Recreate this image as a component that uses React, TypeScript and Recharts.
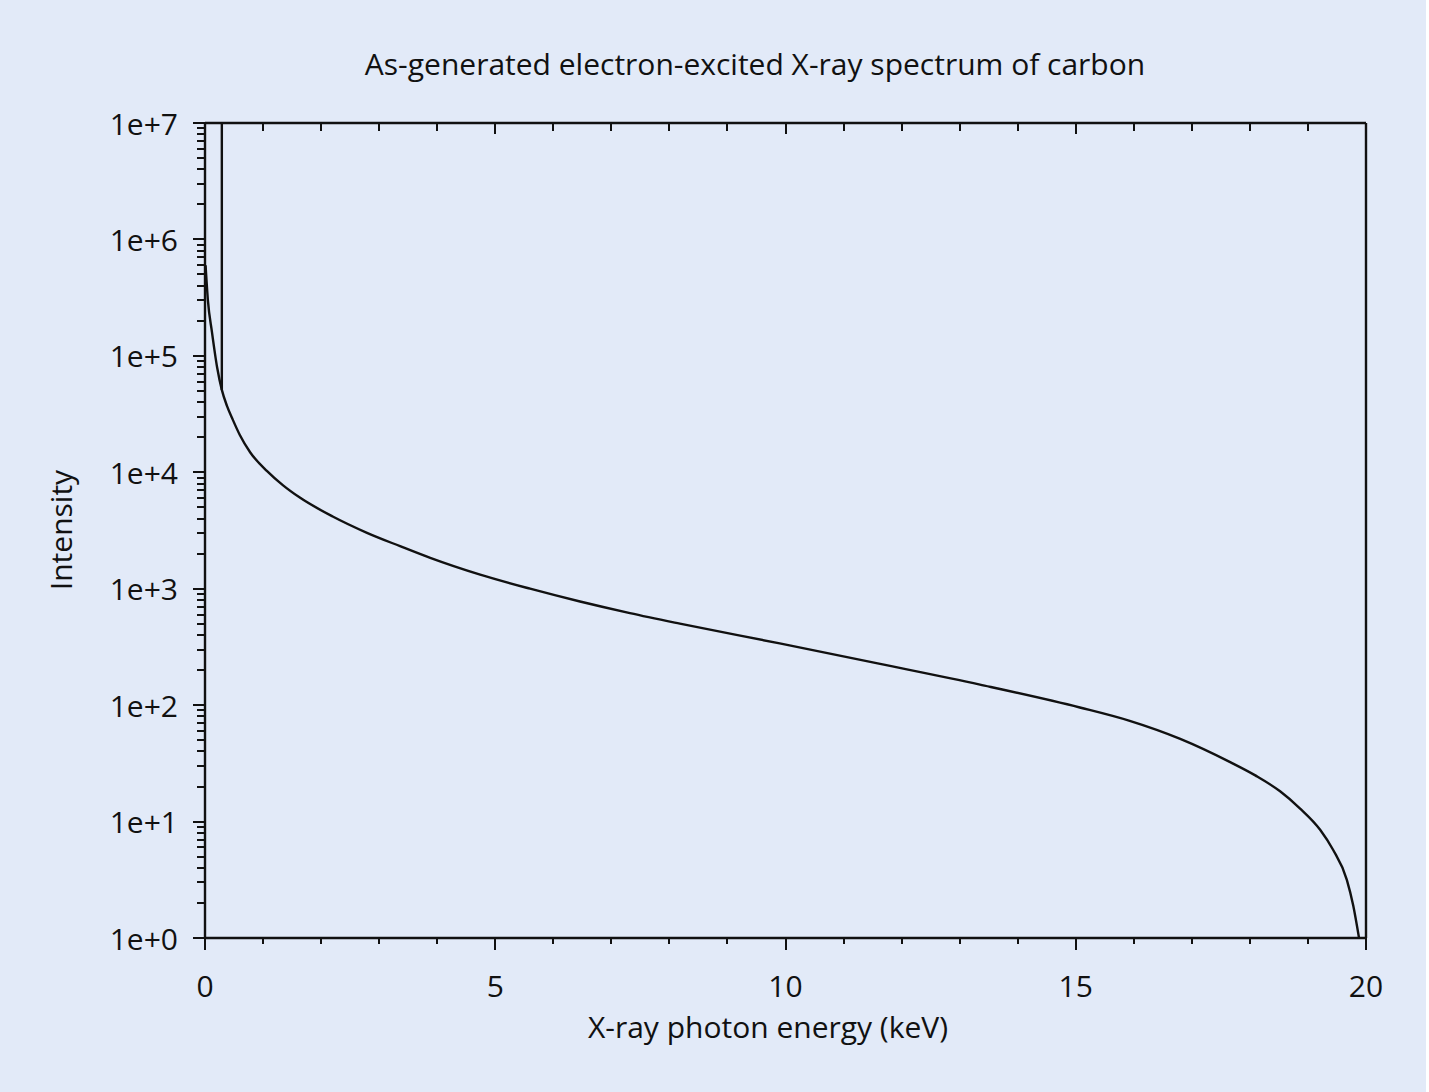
import { LineChart, Line, XAxis, YAxis } from 'recharts';

// X-ray photon energy (keV) and intensity
const energy = [
	0.01, 0.05, 0.12, 0.21, 0.29, 0.38, 0.48, 0.6, 0.78, 1.07, 1.34, 1.64, 2.2,
	2.79, 3.36, 3.88, 4.74, 5.6, 6.46, 7.32, 8.18, 9.9, 11.63, 13.35, 15.07,
	15.93, 16.8, 17.66, 18.1, 18.52, 18.86, 19.21, 19.43, 19.67, 19.78, 19.88,
];
const intensity = [
	600000, 300000, 160000, 79000, 51000, 37000, 28200, 20900, 14800, 10230,
	7760, 6030, 4170, 3020, 2320, 1840, 1320, 1000, 776, 617, 501, 339, 226, 150,
	95.5, 73.3, 51.3, 32.4, 24.8, 18.2, 13.0, 8.5, 5.75, 3.16, 1.9, 1.0,
];

// carbon K line, drawn off the top of the plot
const lineEnergy = [0.29, 0.29];
const lineIntensity = [51000, 30000000];

const xMajor = [0, 5, 10, 15, 20];
const xTicks = Array.from({ length: 21 }, (_, i) => i);
const yMajor = [1, 10, 100, 1000, 10000, 100000, 1000000, 10000000];
const yLabels = ['1e+0', '1e+1', '1e+2', '1e+3', '1e+4', '1e+5', '1e+6', '1e+7'];
const yTicks = [
	...yMajor.slice(0, 7).flatMap((m) => [1, 2, 3, 4, 5, 6, 7, 8, 9].map((d) => d * m)),
	10000000,
];

const data = energy.map((e, i) => ({ energy: e, intensity: intensity[i] }));
const lineData = lineEnergy.map((e, i) => ({ energy: e, intensity: lineIntensity[i] }));

const font = '"Open Sans", sans-serif';
const ink = '#111';
const fs = 30;

const yLabelOf = (v) => {
	const i = yMajor.indexOf(v);
	return i >= 0 ? yLabels[i] : null;
};

const LeftTick = ({ x, y, payload }) => {
	const label = yLabelOf(payload.value);
	return (
		<g>
			<line x1={x - (label ? 12 : 8)} x2={x} y1={y} y2={y} stroke={ink} strokeWidth={2} shapeRendering="crispEdges" />
			{label && (
				<text x={x - 27} y={y} textAnchor="end" dominantBaseline="central" fontSize={fs} fontFamily={font} fill={ink}>
					{label}
				</text>
			)}
		</g>
	);
};

const RightTick = ({ x, y, payload }) => {
	const major = yLabelOf(payload.value) !== null;
	return <line x1={x - (major ? 13 : 8)} x2={x} y1={y} y2={y} stroke={ink} strokeWidth={2} shapeRendering="crispEdges" />;
};

const BottomTick = ({ x, y, payload }) => {
	const major = xMajor.includes(payload.value);
	return (
		<g>
			<line x1={x} x2={x} y1={y} y2={y + (major ? 12 : 6)} stroke={ink} strokeWidth={2} shapeRendering="crispEdges" />
			{major && (
				<text x={x} y={y + 47} textAnchor="middle" dominantBaseline="central" fontSize={fs} fontFamily={font} fill={ink}>
					{payload.value}
				</text>
			)}
		</g>
	);
};

const TopTick = ({ x, y, payload }) => {
	const major = xMajor.includes(payload.value);
	return <line x1={x} x2={x} y1={y} y2={y + (major ? 11 : 8)} stroke={ink} strokeWidth={2} shapeRendering="crispEdges" />;
};

const axisLine = { stroke: ink, strokeWidth: 2.4 };

export default function App() {
	return (
		<div
			style={{
				position: 'absolute',
				left: 0,
				top: 0,
				width: 1426,
				height: 1092,
				background: '#e2eaf8',
				fontFamily: font,
				color: ink,
			}}
		>
			<div style={{ position: 'absolute', left: 0, width: 1510, top: 44, textAlign: 'center', fontSize: fs, lineHeight: '40px' }}>
				As-generated electron-excited X-ray spectrum of carbon
			</div>
			<div
				style={{
					position: 'absolute',
					left: 60,
					top: 530,
					transform: 'translate(-50%, -50%) rotate(-90deg)',
					fontSize: fs,
					whiteSpace: 'nowrap',
				}}
			>
				Intensity
			</div>
			<div style={{ position: 'absolute', left: 0, width: 1536, top: 1007, textAlign: 'center', fontSize: fs, lineHeight: '40px' }}>
				X-ray photon energy (keV)
			</div>
			<div style={{ position: 'absolute', left: 0, top: 0 }}>
				<LineChart width={1426} height={1092} data={data} margin={{ top: 113, right: 50, bottom: 0, left: 0 }}>
					<XAxis
						dataKey="energy"
						type="number"
						domain={[0, 20]}
						ticks={xTicks}
						interval={0}
						height={154}
						tickSize={0}
						tickMargin={0}
						tickLine={false}
						axisLine={axisLine}
						tick={BottomTick}
						allowDataOverflow
					/>
					<XAxis
						xAxisId="top"
						orientation="top"
						dataKey="energy"
						type="number"
						domain={[0, 20]}
						ticks={xTicks}
						interval={0}
						height={10}
						tickSize={0}
						tickMargin={0}
						tickLine={false}
						axisLine={axisLine}
						tick={TopTick}
					/>
					<YAxis
						type="number"
						scale="log"
						domain={[1, 10000000]}
						ticks={yTicks}
						interval={0}
						width={205}
						tickSize={0}
						tickMargin={0}
						tickLine={false}
						axisLine={axisLine}
						tick={LeftTick}
						allowDataOverflow
					/>
					<YAxis
						yAxisId="right"
						orientation="right"
						type="number"
						scale="log"
						domain={[1, 10000000]}
						ticks={yTicks}
						interval={0}
						width={10}
						tickSize={0}
						tickMargin={0}
						tickLine={false}
						axisLine={axisLine}
						tick={RightTick}
					/>
					<Line
						dataKey="intensity"
						type="monotone"
						stroke={ink}
						strokeWidth={2.4}
						dot={false}
						isAnimationActive={false}
					/>
					<Line
						data={lineData}
						dataKey="intensity"
						type="linear"
						stroke={ink}
						strokeWidth={2.4}
						dot={false}
						isAnimationActive={false}
					/>
				</LineChart>
			</div>
		</div>
	);
}
